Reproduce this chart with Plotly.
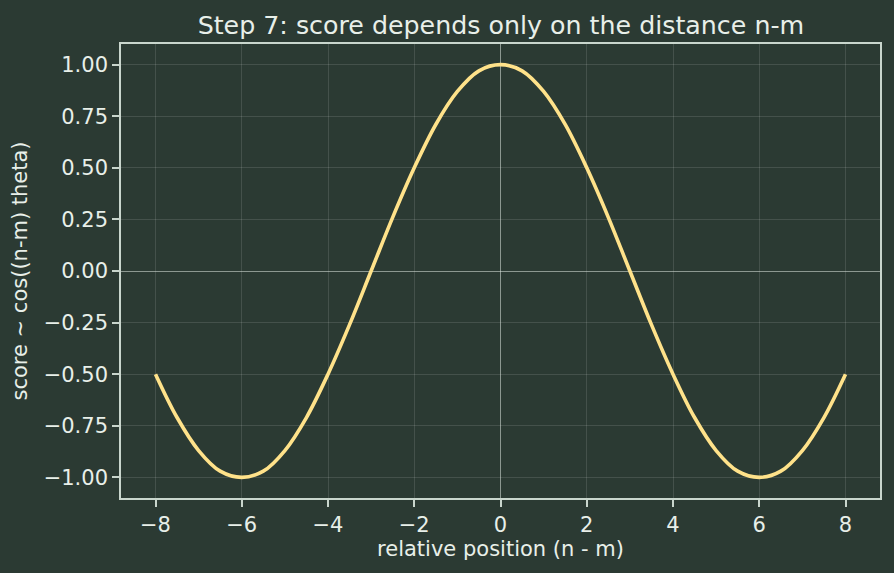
import plotly.graph_objects as go

# relative position (n - m) and score
rel_pos = [-8, -7.5, -7, -6.5, -6, -5.5, -5, -4.5, -4, -3.5, -3, -2.5, -2, -1.5, -1, -0.5,
           0, 0.5, 1, 1.5, 2, 2.5, 3, 3.5, 4, 4.5, 5, 5.5, 6, 6.5, 7, 7.5, 8]
score = [-0.50, -0.71, -0.87, -0.97, -1.00, -0.97, -0.87, -0.71, -0.50, -0.26, 0.00, 0.26,
         0.50, 0.71, 0.87, 0.97, 1.00, 0.97, 0.87, 0.71, 0.50, 0.26, 0.00, -0.26,
         -0.50, -0.71, -0.87, -0.97, -1.00, -0.97, -0.87, -0.71, -0.50]

x_ticks = [-8, -6, -4, -2, 0, 2, 4, 6, 8]
y_ticks = [-1.0, -0.75, -0.5, -0.25, 0.0, 0.25, 0.5, 0.75, 1.0]

BG = "#2b3a33"
FG = "#e8efe9"
SPINE = "#c9d6cd"
GRID = "rgba(255,255,255,0.12)"
ZERO = "rgba(220,230,222,0.55)"

fig = go.Figure()
fig.add_trace(go.Scatter(
    x=rel_pos, y=score, mode="lines",
    line=dict(color="#ffe28a", width=3.6, shape="spline", smoothing=1.0),
    hoverinfo="skip", showlegend=False,
))

axis_common = dict(
    showline=True, linecolor=SPINE, linewidth=1.6, mirror=True,
    ticks="outside", ticklen=7, tickwidth=1.6, tickcolor=SPINE,
    showgrid=True, gridcolor=GRID, gridwidth=1,
    zeroline=True, zerolinecolor=ZERO, zerolinewidth=1.3,
    tickfont=dict(family="DejaVu Sans", size=21, color=FG),
)

fig.update_xaxes(
    range=[-8.8, 8.8], tickvals=x_ticks,
    title=dict(text="relative position (n - m)", font=dict(family="DejaVu Sans", size=21, color=FG), standoff=5),
    **axis_common,
)
fig.update_yaxes(
    range=[-1.1, 1.1], tickvals=y_ticks, tickformat=".2f",
    title=dict(text="score ~ cos((n-m) theta)", font=dict(family="DejaVu Sans", size=21, color=FG), standoff=10),
    **axis_common,
)

fig.update_layout(
    width=894, height=573,
    paper_bgcolor=BG, plot_bgcolor=BG,
    margin=dict(l=121, r=14, t=44, b=75),
    title=dict(text="Step 7: score depends only on the distance n-m",
               font=dict(family="DejaVu Sans", size=25.3, color=FG),
               x=0.5603, xanchor="center", y=0.956, yanchor="middle"),
)

fig.write_html("out.html")
